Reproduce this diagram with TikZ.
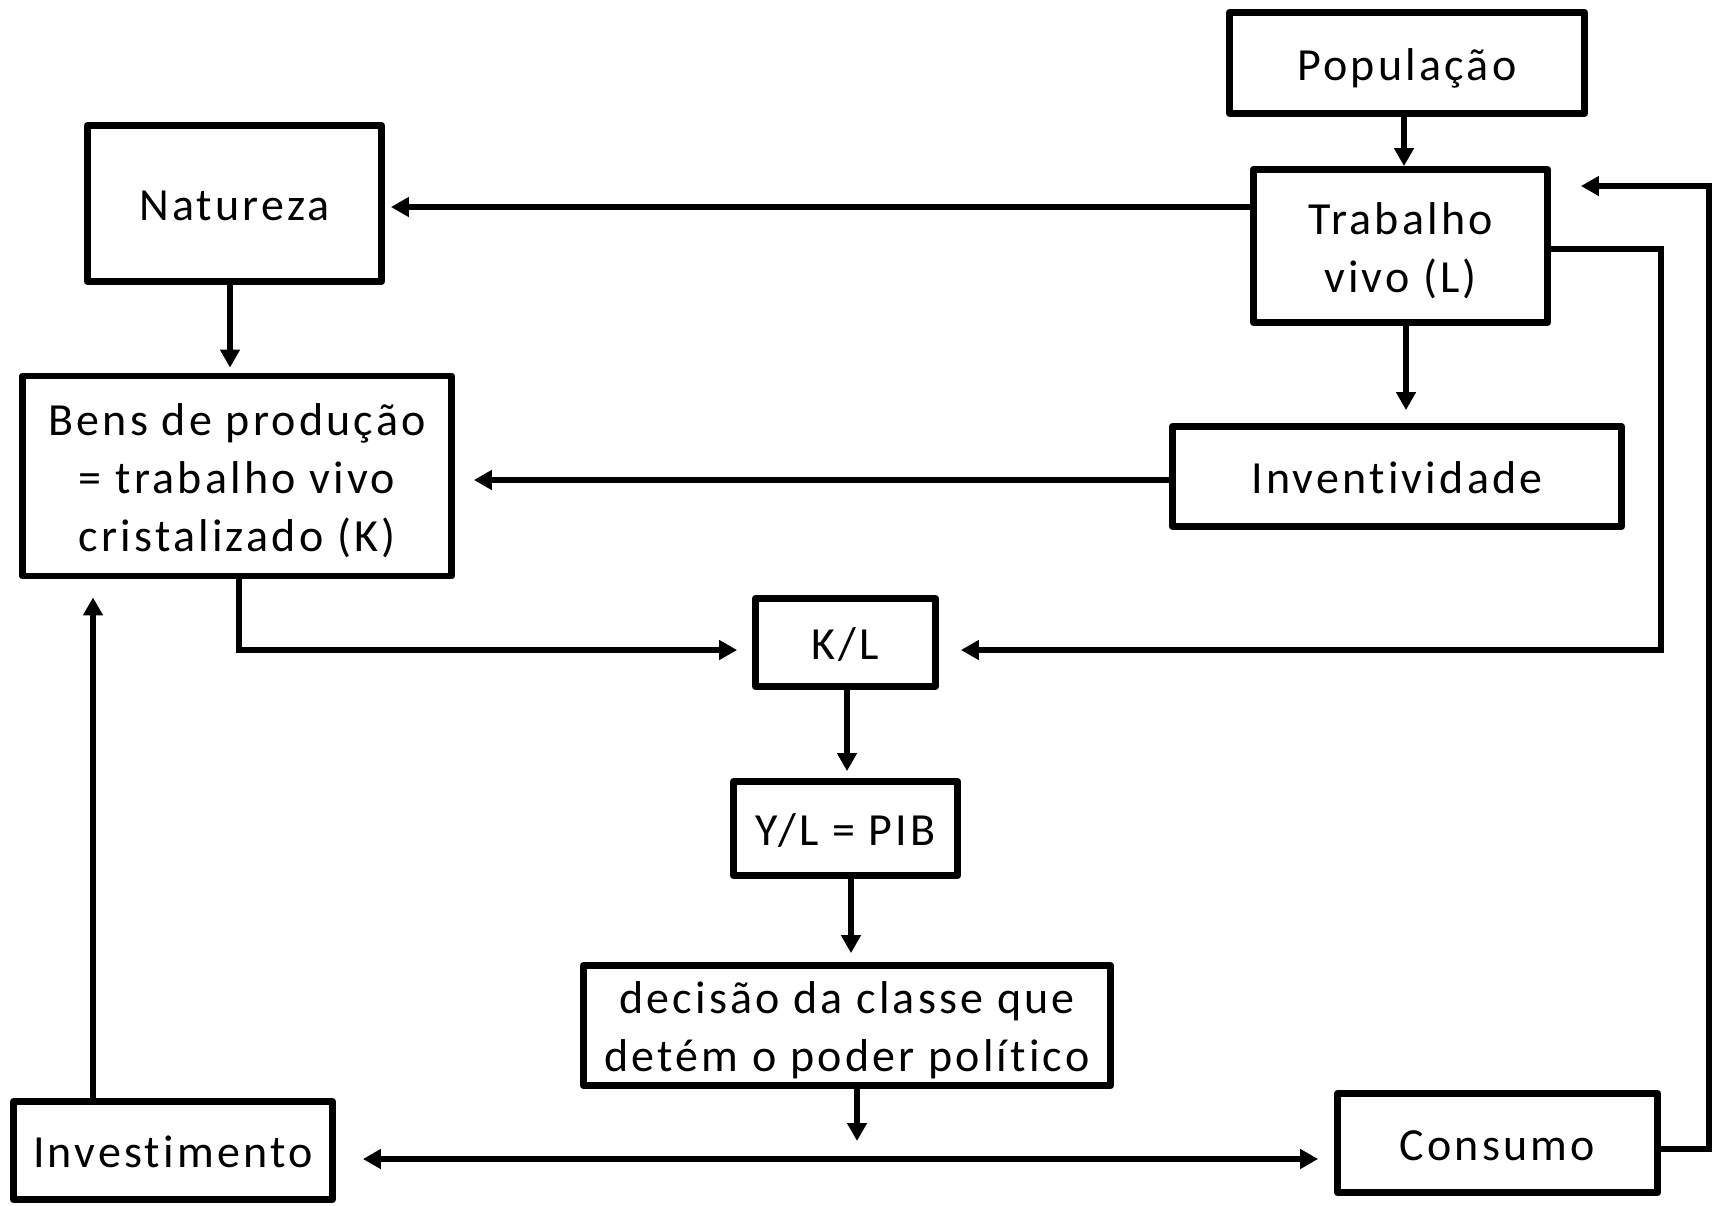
\documentclass[tikz,border=0pt]{standalone}
\usepackage{fontspec}
\setmainfont{Carlito}[LetterSpace=7,Ligatures=NoCommon]
\usetikzlibrary{arrows.meta}
\begin{document}
\begin{tikzpicture}[x=1pt,y=-1pt,line width=6.2pt,draw=black,font=\fontsize{46}{58}\selectfont]
	\tikzstyle{every node}=[rectangle,draw=black,line width=6.8pt,align=center,inner sep=0pt,line join=round,text height=48pt,text depth=14pt]
	\tikzstyle{two}=[text height=106pt]   % two = box with two lines
	\tikzstyle{three}=[text height=164pt] % three = box with three lines
	\tikzstyle{arr}=[-{Triangle[length=18pt,width=19pt]}]   % arr = single arrow
	\tikzstyle{darr}=[{Triangle[length=18pt,width=19pt]}-{Triangle[length=18pt,width=19pt]}] % darr = double arrow
	\useasboundingbox (0,0) rectangle (1718,1205);
	\node(pop)[minimum width=355pt,minimum height=101pt] at (1407,63) {População};
	\node(trab)[two,minimum width=294pt,minimum height=153pt] at (1400.5,246) {Trabalho\\vivo (L)};
	\node(nat)[minimum width=294pt,minimum height=156pt] at (234.5,203.5) {Natureza};
	\node(bens)[three,minimum width=429pt,minimum height=200pt] at (237,476) {Bens de produção\\= trabalho vivo\\cristalizado (K)};
	\node(inv)[minimum width=449pt,minimum height=100pt] at (1397,476.5) {Inventividade};
	\node(kl)[minimum width=180pt,minimum height=88pt] at (845.5,642.5) {K/L};
	\node(yl)[minimum width=224pt,minimum height=94pt] at (845.5,828.5) {Y/L = PIB};
	\node(dec)[two,minimum width=527pt,minimum height=114pt] at (847,1025.5) {decisão da classe que\\detém o poder político};
	\node(invest)[minimum width=319pt,minimum height=98pt] at (173,1150.5) {Investimento};
	\node(cons)[minimum width=320pt,minimum height=99pt] at (1497.5,1143) {Consumo};
	\coordinate (split) at (857,1141);
	\draw[arr] (pop.south -| 1404,0) -- (trab.north -| 1404,0);
	\draw[arr,shorten >=6pt] (trab.west |- 0,207) -- (nat.east |- 0,207);
	\draw[arr,shorten >=5pt] (nat.south -| 230,0) -- (bens.north -| 230,0);
	\draw[arr,shorten >=13pt] (trab.south -| 1406,0) -- (inv.north -| 1406,0);
	\draw[arr,shorten >=19pt] (inv.west |- 0,480) -- (bens.east |- 0,480);
	\draw[arr,shorten >=15pt] (bens.south -| 239,0) |- (kl.west |- 0,650);
	\draw[arr,shorten >=22pt] (trab.east |- 0,249) -- (cons.east |- 0,249) -- (cons.east |- 0,650) -- (kl.east |- 0,650);
	\draw[arr,shorten >=7pt] (kl.south -| 847,0) -- (yl.north -| 847,0);
	\draw[arr,shorten >=9pt] (yl.south -| 851,0) -- (dec.north -| 851,0);
	\draw[arr] (dec.south -| split) -- (split);
	\draw[darr,shorten <=27pt,shorten >=16pt] (invest.east |- 0,1159) -- (cons.west |- 0,1159);
	\draw[arr,shorten >=18pt] (invest.north -| 93,0) -- (bens.south -| 93,0);
	\draw[arr,shorten >=30pt] (cons.east |- 0,1149) -- (1709,1149) |- (trab.east |- 0,186);
\end{tikzpicture}
\end{document}
